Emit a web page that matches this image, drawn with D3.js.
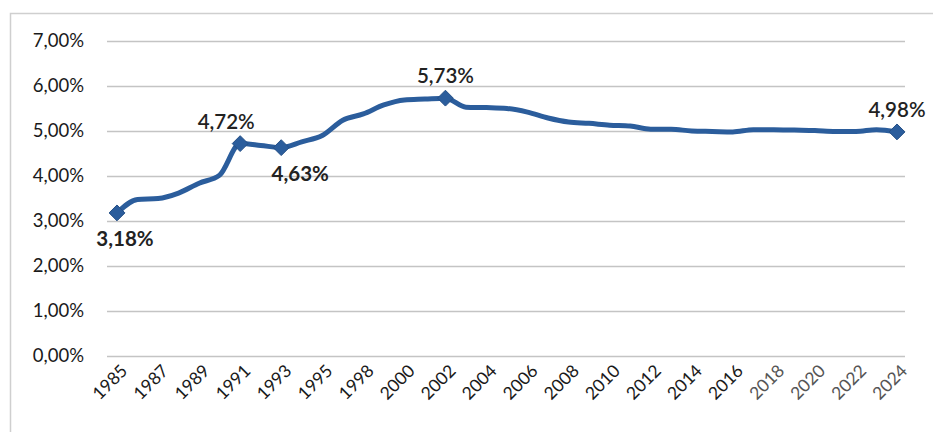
<!DOCTYPE html>
<html>
<head>
<meta charset="utf-8">
<script src="https://cdn.jsdelivr.net/npm/d3@7"></script>
<style>
  html, body { margin: 0; padding: 0; background: #fff; }
  svg { display: block; }
</style>
</head>
<body>
<svg id="chart" width="933" height="432"></svg>
<script>
// Category years (axis shows every second one)
const years = ["1985","1986","1987","1988","1989","1990","1991","1992","1993","1994","1995",
  "1997","1998","1999","2000","2001","2002","2003","2004","2005","2006","2007","2008","2009",
  "2010","2011","2012","2013","2014","2015","2016","2017","2018","2019","2020","2021","2022","2023","2024"];

// Rate in percent
const rates = [3.18,3.48,3.50,3.62,3.84,4.02,4.72,4.68,4.63,4.76,4.90,
  5.24,5.38,5.58,5.69,5.71,5.73,5.53,5.52,5.50,5.42,5.29,5.20,5.17,
  5.13,5.11,5.04,5.04,5.00,4.99,4.98,5.03,5.03,5.02,5.01,4.99,4.99,5.03,4.98];

// Highlighted points with value labels
const labelled = [
  { year: "1985", pos: "below", dx: 8,   weight: 700 },
  { year: "1991", pos: "above", dx: -14, weight: 600 },
  { year: "1993", pos: "below", dx: 19,  weight: 700 },
  { year: "2002", pos: "above", dx: 0,   weight: 600 },
  { year: "2024", pos: "above", dx: 0,   weight: 600 }
];

const yTicks = [0,1,2,3,4,5,6,7];

const svg = d3.select("#chart");
const fmt = v => v.toFixed(2).replace(".", ",") + "%";
const font = "Lato, 'Open Sans', sans-serif";

const x = d3.scalePoint().domain(years).range([117, 897]);
const y = d3.scaleLinear().domain([0, 7]).range([356, 41]);

// outer frame (top and left edges)
svg.append("path")
  .attr("d", "M10.5,432 L10.5,13.5 L933,13.5")
  .attr("fill", "none").attr("stroke", "#cfcfcf").attr("stroke-width", 1.5);

// gridlines and y labels
const yAxis = d3.axisLeft(y).tickValues(yTicks).tickSize(-(905 - 107)).tickFormat(fmt);
const gy = svg.append("g").attr("transform", "translate(107,0)").call(yAxis);
gy.select(".domain").remove();
gy.selectAll(".tick line").attr("stroke", "#c4c4c4").attr("stroke-width", 1.5);
gy.selectAll(".tick text")
  .attr("x", -23)
  .attr("fill", "#1a1a1a")
  .style("font-family", font)
  .style("font-size", "18.5px");

// x axis labels (every second category)
const xAxis = d3.axisBottom(x)
  .tickValues(years.filter((d, i) => i % 2 === 0))
  .tickSize(0);
const gx = svg.append("g").attr("transform", "translate(0,356)").call(xAxis);
gx.select(".domain").remove();
gx.selectAll(".tick text")
  .attr("text-anchor", "end")
  .attr("dy", 0)
  .attr("y", 0)
  .attr("transform", "translate(11,16) rotate(-45)")
  .attr("fill", d => (+d >= 2018 ? "#555" : "#1a1a1a"))
  .style("font-family", font)
  .style("font-size", "17.5px");

// the line
const data = years.map((yr, i) => ({ yr, v: rates[i] }));
const line = d3.line()
  .x(d => x(d.yr))
  .y(d => y(d.v))
  .curve(d3.curveMonotoneX);

svg.append("path")
  .datum(data)
  .attr("d", line)
  .attr("fill", "none")
  .attr("stroke", "#2b5d9c")
  .attr("stroke-width", 5)
  .attr("stroke-linejoin", "round")
  .attr("stroke-linecap", "round");

// diamond markers and value labels
const diamond = d3.symbol().type(d3.symbolDiamond2).size(160);
labelled.forEach(l => {
  const v = rates[years.indexOf(l.year)];
  const cx = x(l.year), cy = y(v);
  svg.append("path")
    .attr("d", diamond())
    .attr("transform", `translate(${cx},${cy})`)
    .attr("fill", "#2b5d9c")
    .attr("stroke", "#244f86")
    .attr("stroke-width", 1);
  svg.append("text")
    .attr("x", cx + l.dx)
    .attr("y", l.pos === "above" ? cy - 15 : cy + 33)
    .attr("text-anchor", "middle")
    .attr("fill", "#222")
    .style("font-family", font)
    .style("font-size", "20.5px")
    .style("font-weight", l.weight)
    .text(fmt(v));
});
</script>
</body>
</html>
